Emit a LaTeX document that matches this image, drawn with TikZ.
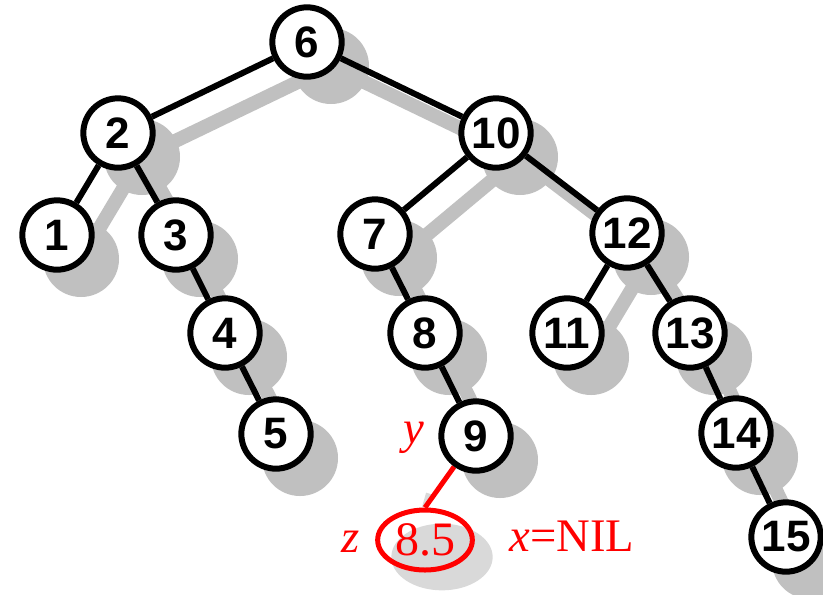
\documentclass[tikz,border=0pt]{standalone}
\usepackage{fontspec}
\setmainfont{Liberation Serif}
\setsansfont{Liberation Sans}
\usetikzlibrary{backgrounds,shapes.geometric}
\definecolor{shadowgray}{RGB}{192,192,192}
\definecolor{lightshadow}{RGB}{217,217,217}
\definecolor{nilred}{RGB}{255,0,0}
\tikzset{
  tnode/.style={circle, draw=black, line width=4.5pt, fill=white, inner sep=0pt,
    minimum size=52pt, font=\sffamily\bfseries\fontsize{33}{33}\selectfont},
  shadowdisc/.style={circle, fill=shadowgray, inner sep=0pt, minimum size=57pt},
  shadowline/.style={draw=shadowgray, line width=10.5pt},
  treeedge/.style={draw=black, line width=4.5pt},
  rednode/.style={ellipse, draw=nilred, line width=3.75pt, inner sep=0pt,
    minimum width=71pt, minimum height=45pt, text=nilred,
    font=\fontsize{36}{36}\selectfont},
  redlabel/.style={text=nilred, font=\fontsize{35}{35}\selectfont, inner sep=0pt},
}
\begin{document}
\begin{tikzpicture}[x=0.75pt, y=-0.75pt]
\useasboundingbox (0,0) rectangle (823,594);

% tree nodes
\node[tnode] (n6)  at (307, 42) {6};
\node[tnode] (n2)  at (118,133) {2};
\node[tnode] (n10) at (496,133) {10};
\node[tnode] (n1)  at (57, 235) {1};
\node[tnode] (n3)  at (176,235) {3};
\node[tnode] (n7)  at (375,234) {7};
\node[tnode] (n12) at (627,233) {12};
\node[tnode] (n4)  at (225,333) {4};
\node[tnode] (n8)  at (425,333) {8};
\node[tnode] (n11) at (567,333) {11};
\node[tnode] (n13) at (690,333) {13};
\node[tnode] (n5)  at (276,434) {5};
\node[tnode] (n9)  at (476,436) {9};
\node[tnode] (n14) at (736,433) {14};
\node[tnode] (n15) at (786,537) {15};

% inserted key and labels
\node[rednode] (z) at (425,540) {8.5};
\node[redlabel, anchor=base] (ly) at (414,443) {\itshape y};
\node[redlabel, anchor=base] (lz) at (351,552) {\itshape z};
\node[redlabel, anchor=base] (lx) at (572,551) {\textit{x}=NIL};

\begin{scope}[on background layer]
  % drop shadows of the nodes
  \foreach \n in {6,2,10,1,3,7,12,4,8,11,13,5,9,14,15}
    \node[shadowdisc] (s\n) at ([shift={(24,24)}]n\n.center) {};
  \node[ellipse, fill=lightshadow, inner sep=0pt, minimum width=76pt,
        minimum height=50pt] (sz) at ([shift={(17,17)}]z.center) {};
  % drop shadows of the edges
  \foreach \a/\b in {6/2,6/10,2/1,2/3,3/4,4/5,10/7,10/12,7/8,8/9,12/11,12/13,13/14,14/15}
    \draw[shadowline] (s\a.center) -- (s\b.center);
  % faint shadow of the red link where it meets the new key
  \coordinate (zs) at ([shift={(4,-14)}]z.north);
  \draw[lightshadow, line width=4.5pt] (zs) -- (z.north);
  % edges
  \foreach \a/\b in {6/2,6/10,2/1,2/3,3/4,4/5,10/7,10/12,7/8,8/9,12/11,12/13,13/14,14/15}
    \draw[treeedge] (n\a) -- (n\b);
  \draw[nilred, line width=3.75pt] (n9) -- (z.north);
\end{scope}
\end{tikzpicture}
\end{document}
